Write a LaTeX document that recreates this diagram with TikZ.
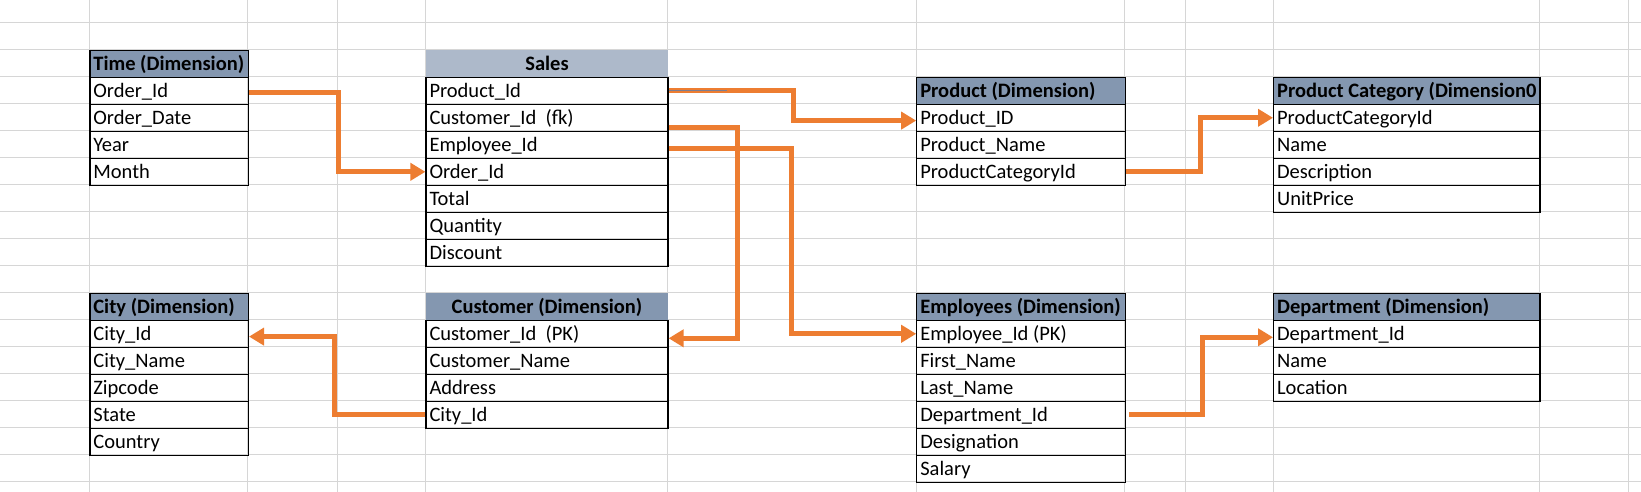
\documentclass[tikz,border=0pt]{standalone}
\usepackage{fontspec}
\setmainfont{Carlito}
\usetikzlibrary{arrows.meta}
\definecolor{headblue}{HTML}{8497B0}
\definecolor{salesblue}{HTML}{ADB9CA}
\definecolor{gridgray}{HTML}{D6D6D6}
\definecolor{connorange}{HTML}{ED7D31}
\definecolor{thingray}{RGB}{125,125,145}
\tikzset{
  gridline/.style={draw=gridgray, line width=1pt},
  cellbox/.style={draw=black, line width=1.2pt, inner sep=0pt, minimum height=27pt,
    text height=15pt, text depth=1pt, font=\fontsize{20.5}{24}\selectfont},
  headbox/.style={cellbox, fill=headblue, font=\fontsize{20.5}{24}\selectfont\bfseries},
  salesbox/.style={headbox, fill=salesblue, draw=none},
  custbox/.style={headbox, draw=none},
  conn/.style={draw=connorange, line width=5pt, -{Triangle[length=15pt,width=17pt]}},
}
% #1 name, #2 x0, #3 x1, #4 y top, #5 header style, #6 header align, #7 header text, #8 rows
\newcommand\dbtable[8]{%
  \pgfmathsetmacro\tblw{#3-#2}%
  \node[#5, minimum width=\tblw pt, anchor=north west] (#1-h) at (#2,#4)
    {\makebox[\dimexpr\tblw pt-7pt\relax][#6]{#7}};%
  \foreach \t [count=\i] in {#8} {%
    \node[cellbox, minimum width=\tblw pt, anchor=north west] (#1-\i) at (#2,{#4+27*\i})
      {\makebox[\dimexpr\tblw pt-7pt\relax][l]{\t}};%
  }%
}
\begin{document}
\begin{tikzpicture}[x={(1pt,0)}, y={(0,-1pt)}]
\useasboundingbox (0,0) rectangle (1641,492);
\fill[white] (0,0) rectangle (1641,492);
% spreadsheet grid
\foreach \k in {0,...,17} \draw[gridline] (0,{22.7+27*\k}) -- (1641,{22.7+27*\k});
\foreach \x in {89.3,247.8,337,425.4,667.4,916.2,1124.6,1185,1273,1539.3,1628.5}
  \draw[gridline] (\x,0) -- (\x,492);
% tables
\dbtable{time}{89.3}{247.8}{49.7}{headbox}{l}{Time (Dimension)}
  {Order\_Id, Order\_Date, Year, Month}
\dbtable{sales}{425.4}{667.4}{49.7}{salesbox}{c}{Sales}
  {Product\_Id, Customer\_Id\ \ (fk), Employee\_Id, Order\_Id, Total, Quantity, Discount}
\dbtable{product}{916.2}{1124.6}{76.7}{headbox}{l}{Product (Dimension)}
  {Product\_ID, Product\_Name, ProductCategoryId}
\dbtable{prodcat}{1273}{1539.3}{76.7}{headbox}{l}{Product Category (Dimension0}
  {ProductCategoryId, Name, Description, UnitPrice}
\dbtable{city}{89.3}{247.8}{292.7}{headbox}{l}{City (Dimension)}
  {City\_Id, City\_Name, Zipcode, State, Country}
\dbtable{customer}{425.4}{667.4}{292.7}{custbox}{c}{Customer (Dimension)}
  {Customer\_Id\ \ (PK), Customer\_Name, Address, City\_Id}
\dbtable{employees}{916.2}{1124.6}{292.7}{headbox}{l}{Employees (Dimension)}
  {Employee\_Id (PK), First\_Name, Last\_Name, Department\_Id, Designation, Salary}
\dbtable{department}{1273}{1539.3}{292.7}{headbox}{l}{Department (Dimension)}
  {Department\_Id, Name, Location}
% connectors
\draw[conn] ([yshift=-1.5pt]time-1.east) -- ++(89.2,0) |- (sales-4.west);
\draw[conn] (sales-1.east) -- ++(125.3,0) |- ([yshift=-2.8pt]product-1.west);
\draw[line width=1.2pt, draw=thingray] (sales-1.east) -- ++(58.6,0);
\draw[conn] ([yshift=-9.5pt]sales-2.east) -- ++(68.6,0) |- ([yshift=-4.5pt]customer-1.east);
\draw[conn] ([yshift=-3.5pt]sales-3.east) -- ++(123.3,0) |- (employees-1.west);
\draw[conn] (product-3.east) -- ++(74.8,0) |- (prodcat-1.west);
\draw[conn] (customer-4.west) -- ++(-90.6,0) |- ([yshift=-2.8pt]city-1.east);
\draw[conn] ([xshift=3pt]employees-4.east) -- ++(73.8,0) |- ([yshift=-3.5pt]department-1.west);
\end{tikzpicture}
\end{document}
